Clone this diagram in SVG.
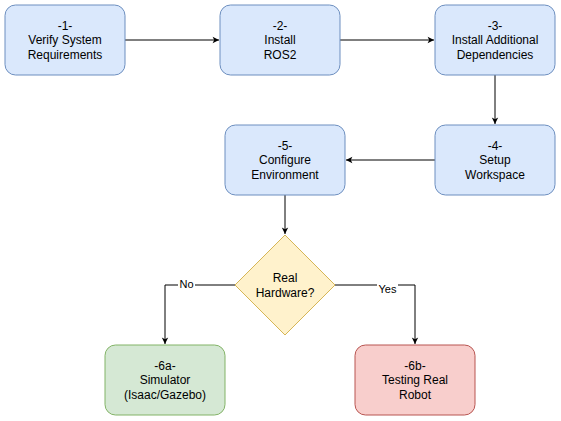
<svg xmlns="http://www.w3.org/2000/svg" width="561" height="421" viewBox="0 0 561 421">
<style>
text{font-family:"Liberation Sans",Arial,sans-serif;font-size:12px;fill:#000;text-anchor:middle}
.blue{fill:#dae8fc;stroke:#6c8ebf}
.green{fill:#d5e8d4;stroke:#82b366}
.red{fill:#f8cecc;stroke:#b85450}
.yellow{fill:#fff2cc;stroke:#d6b656}
.edge{fill:none;stroke:#000;stroke-width:1}
.lbl{font-size:11px}
</style>
<defs>
<marker id="arr" viewBox="0 0 10 10" refX="9" refY="5" markerWidth="8" markerHeight="8" markerUnits="userSpaceOnUse" orient="auto">
<path d="M1,1 L9,5 L1,9 L3,5 Z" fill="#000"/>
</marker>
</defs>
<rect width="561" height="421" fill="#fff"/>
<g id="connectors">
<path class="edge" d="M125,40 H219" marker-end="url(#arr)"/>
<path class="edge" d="M340,40 H434" marker-end="url(#arr)"/>
<path class="edge" d="M495,75 V124" marker-end="url(#arr)"/>
<path class="edge" d="M435,160 H346" marker-end="url(#arr)"/>
<path class="edge" d="M285,195 V234" marker-end="url(#arr)"/>
<path class="edge" d="M235,285 H165 V344" marker-end="url(#arr)"/>
<path class="edge" d="M335,285 H415 V344" marker-end="url(#arr)"/>
<rect x="178" y="277" width="17" height="13" fill="#fff"/>
<text class="lbl" x="186.5" y="288">No</text>
<rect x="377" y="282" width="21" height="13" fill="#fff"/>
<text class="lbl" x="387.5" y="293">Yes</text>
</g>
<g id="n1">
<rect class="blue" x="5" y="5" width="120" height="70" rx="10.5"/>
<text x="65" y="30">-1-</text><text x="65" y="44">Verify System</text><text x="65" y="59">Requirements</text>
</g>
<g id="n2">
<rect class="blue" x="220" y="5" width="120" height="70" rx="10.5"/>
<text x="280" y="30">-2-</text><text x="280" y="44">Install</text><text x="280" y="59">ROS2</text>
</g>
<g id="n3">
<rect class="blue" x="435" y="5" width="120" height="70" rx="10.5"/>
<text x="495" y="30">-3-</text><text x="495" y="44">Install Additional</text><text x="495" y="59">Dependencies</text>
</g>
<g id="n4">
<rect class="blue" x="435" y="125" width="120" height="70" rx="10.5"/>
<text x="495" y="150">-4-</text><text x="495" y="164">Setup</text><text x="495" y="179">Workspace</text>
</g>
<g id="n5">
<rect class="blue" x="225" y="125" width="120" height="70" rx="10.5"/>
<text x="285" y="150">-5-</text><text x="285" y="164">Configure</text><text x="285" y="179">Environment</text>
</g>
<g id="d6">
<path class="yellow" d="M285,235 L335,285 L285,335 L235,285 Z"/>
<text x="285" y="282">Real</text><text x="285" y="297">Hardware?</text>
</g>
<g id="n6a">
<rect class="green" x="105" y="345" width="120" height="70" rx="10.5"/>
<text x="165" y="370">-6a-</text><text x="165" y="384">Simulator</text><text x="165" y="399">(Isaac/Gazebo)</text>
</g>
<g id="n6b">
<rect class="red" x="355" y="345" width="120" height="70" rx="10.5"/>
<text x="415" y="370">-6b-</text><text x="415" y="384">Testing Real</text><text x="415" y="399">Robot</text>
</g>
</svg>
